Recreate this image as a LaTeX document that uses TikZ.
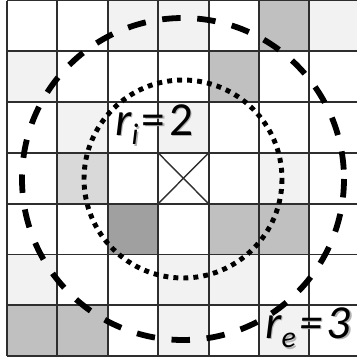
\documentclass[tikz,border=0pt]{standalone}
\usepackage{fontspec}
\setmainfont{Carlito}
\definecolor{gL}{HTML}{F2F2F2}
\definecolor{gM}{HTML}{C0C0C0}
\definecolor{gD}{HTML}{A0A0A0}
\definecolor{gS}{HTML}{D9D9D9}
\definecolor{gridc}{HTML}{2E2E2E}
\newcommand{\rsub}[1]{\raisebox{-5.5pt}{\fontsize{17}{17}\selectfont\itshape #1}}
\begin{document}
\begin{tikzpicture}[x=0.02cm,y=-0.02cm,
  gridline/.style={draw=gridc,line width=1.1pt},
  xline/.style={draw=gridc,line width=0.8pt},
  outer/.style={draw=black,line width=3.3pt,dash pattern=on 10.5pt off 9.5pt},
  inner/.style={draw=black,line width=2.8pt,dash pattern=on 2.8pt off 2.9pt},
  lbl/.style={font=\fontsize{27}{27}\selectfont,inner sep=0pt,anchor=base west},
  shadowlbl/.style={lbl,text=black!30}]
\useasboundingbox (0,0) rectangle (357,359);
\begin{scope}
\clip (0,0) rectangle (357,359);
\foreach \c/\r/\col in {2/0/gL,3/0/gL,5/0/gM,6/0/gL,
  0/1/gL,4/1/gM,
  1/2/gL,3/2/gL,
  1/3/gS,5/3/gL,
  2/4/gD,4/4/gM,5/4/gM,
  0/5/gL,3/5/gL,4/5/gL,
  0/6/gM,1/6/gM,3/6/gL,5/6/gL}
  \fill[fill=\col] ({7+50.4*\c},{0.5+50.8*\r}) rectangle ({7+50.4*(\c+1)},{0.5+50.8*(\r+1)});
\foreach \i in {0,...,6}
  \draw[gridline] ({7+50.4*\i},0.5) -- ({7+50.4*\i},356.1);
\foreach \j in {0,...,7}
  \draw[gridline] (7,{0.5+50.8*\j}) -- (370,{0.5+50.8*\j});
\coordinate (xa) at ({7+50.4*3},{0.5+50.8*3});
\coordinate (xb) at ({7+50.4*4},{0.5+50.8*4});
\coordinate (xc) at ({7+50.4*4},{0.5+50.8*3});
\coordinate (xd) at ({7+50.4*3},{0.5+50.8*4});
\draw[xline] (xa) -- (xb);
\draw[xline] (xc) -- (xd);
\coordinate (ctr) at (183,179);
\draw[outer] (ctr) circle[radius=161];
\draw[inner] (ctr) circle[radius=99];
\end{scope}
\node[shadowlbl] at (116.5,136.5) {\itshape r\rsub{i}\kern2pt\upshape=\kern2pt2};
\node[lbl] (ri) at (115,135) {\itshape r\rsub{i}\kern2pt\upshape=\kern2pt2};
\node[shadowlbl] at (266.5,339.5) {\itshape r\rsub{e}\kern2pt=\kern2pt3};
\node[lbl] (re) at (265,338) {\itshape r\rsub{e}\kern2pt=\kern2pt3};
\end{tikzpicture}
\end{document}
